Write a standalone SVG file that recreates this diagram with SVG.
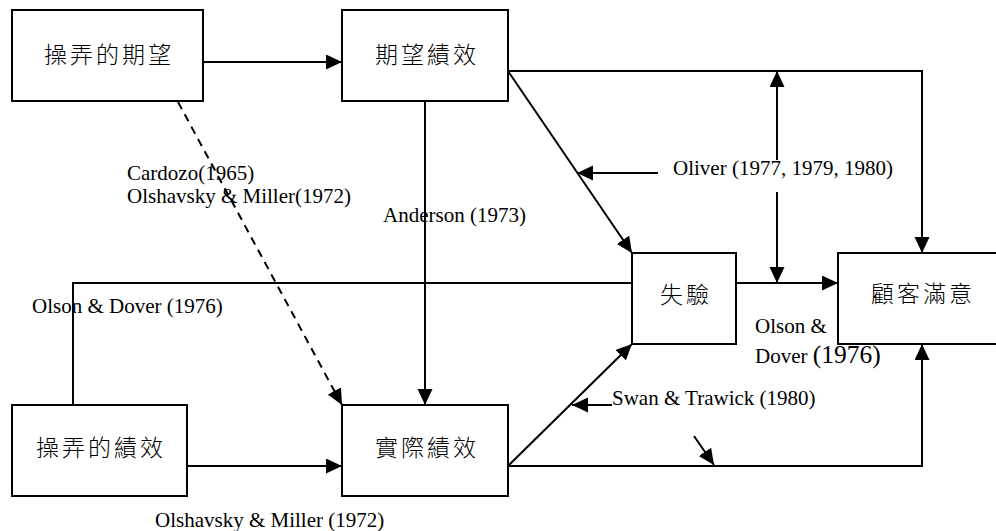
<svg xmlns="http://www.w3.org/2000/svg" width="996" height="531" viewBox="0 0 996 531">
<defs>
<marker id="ah" markerUnits="userSpaceOnUse" markerWidth="18" markerHeight="16" refX="16" refY="7.5" orient="auto">
<path d="M0,0 L16,7.5 L0,15 z" fill="#000"/>
</marker>
<style>
.box{fill:#fff;stroke:#000;stroke-width:2}
.zh{font-family:"Noto Sans CJK TC","Noto Sans CJK SC",sans-serif;font-weight:300;font-size:23px;letter-spacing:3px;text-anchor:middle;fill:#000}
.en{font-family:"Liberation Serif","Times New Roman",serif;font-size:21px;fill:#000}
.ln{fill:none;stroke:#000;stroke-width:2}
.ar{marker-end:url(#ah)}
</style>
</defs>
<rect width="996" height="531" fill="#fff"/>
<g id="connectors">
<line class="ln ar" x1="203" y1="62" x2="342" y2="62"/>
<line class="ln ar" x1="187" y1="466" x2="342" y2="466"/>
<line class="ln ar" x1="425" y1="101" x2="425" y2="405"/>
<line class="ln ar" x1="178" y1="102" x2="342" y2="405" stroke-dasharray="8,6"/>
<polyline class="ln" points="73,405 73,283 632,283"/>
<line class="ln ar" x1="508" y1="71" x2="632" y2="253"/>
<line class="ln ar" x1="508" y1="466" x2="632" y2="344"/>
<polyline class="ln ar" points="508,71 922,71 922,253"/>
<polyline class="ln ar" points="508,466 922,466 922,344"/>
<line class="ln ar" x1="736" y1="283" x2="838" y2="283"/>
<line class="ln ar" x1="777" y1="160" x2="777" y2="71"/>
<line class="ln ar" x1="777" y1="192" x2="777" y2="283"/>
<line class="ln ar" x1="658" y1="173" x2="577" y2="173"/>
<line class="ln ar" x1="612" y1="405" x2="572" y2="405"/>
<line class="ln ar" x1="694" y1="436" x2="714" y2="465"/>
</g>
<g id="n1"><rect class="box" x="12" y="10" width="191" height="91"/><text class="zh" x="109" y="63">操弄的期望</text></g>
<g id="n2"><rect class="box" x="342" y="10" width="166" height="91"/><text class="zh" x="427" y="63">期望績效</text></g>
<g id="n3"><rect class="box" x="12" y="405" width="175" height="91"/><text class="zh" x="101" y="456">操弄的績效</text></g>
<g id="n4"><rect class="box" x="342" y="405" width="166" height="91"/><text class="zh" x="427" y="456">實際績效</text></g>
<g id="n5"><rect class="box" x="632" y="253" width="104" height="91"/><text class="zh" x="686" y="303">失驗</text></g>
<g id="n6"><rect class="box" x="838" y="253" width="166" height="91"/><text class="zh" x="923" y="302">顧客滿意</text></g>
<g id="labels">
<text class="en" x="127" y="180">Cardozo(1965)</text>
<text class="en" x="127" y="203">Olshavsky &amp; Miller(1972)</text>
<text class="en" x="383" y="222">Anderson (1973)</text>
<text class="en" x="32" y="313">Olson &amp; Dover (1976)</text>
<text class="en" x="673" y="175">Oliver (1977, 1979, 1980)</text>
<text class="en" x="755" y="333">Olson &amp;</text>
<text class="en" x="755" y="363">Dover <tspan font-size="25.5px">(1976)</tspan></text>
<text class="en" x="612" y="405">Swan &amp; Trawick (1980)</text>
<text class="en" x="155" y="527">Olshavsky &amp; Miller (1972)</text>
</g>
</svg>
